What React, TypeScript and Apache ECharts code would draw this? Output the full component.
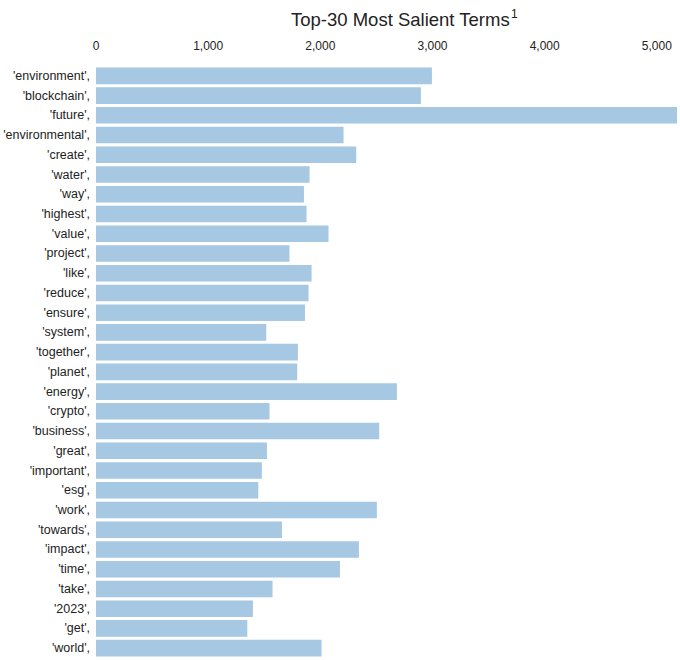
import React, { useEffect, useRef } from "react";
import * as echarts from "echarts";

const terms = [
  "environment", "blockchain", "future", "environmental", "create", "water", "way", "highest",
  "value", "project", "like", "reduce", "ensure", "system", "together", "planet", "energy",
  "crypto", "business", "great", "important", "esg", "work", "towards", "impact", "time",
  "take", "2023", "get", "world",
];
const counts = [
  2995, 2897, 5180, 2207, 2320, 1904, 1854, 1877,
  2073, 1725, 1922, 1895, 1863, 1518, 1800, 1794, 2683,
  1547, 2525, 1524, 1479, 1447, 2504, 1658, 2344, 2175,
  1574, 1399, 1349, 2011,
];
const titleText = "Top-30 Most Salient Terms";
const titleSup = "1";

export default function App() {
  const ref = useRef<HTMLDivElement>(null);
  useEffect(() => {
    if (!ref.current) return;
    const chart = echarts.init(ref.current, null, { renderer: "svg" });
    chart.setOption({
      animation: false,
      backgroundColor: "#ffffff",
      title: {
        text: titleText + "{sup|" + titleSup + "}",
        left: 286,
        top: 3,
        textStyle: {
          fontFamily: "Liberation Sans, Arial, sans-serif",
          fontSize: 18.5,
          fontWeight: "normal",
          color: "#222222",
          rich: {
            sup: {
              fontFamily: "Liberation Sans, Arial, sans-serif",
              fontSize: 12,
              color: "#222222",
              verticalAlign: "top",
              padding: [0, 0, 10, 1],
            },
          },
        },
      },
      grid: { left: 96, right: 3, top: 66, bottom: 2, containLabel: false },
      xAxis: {
        type: "value",
        position: "top",
        min: 0,
        max: 5180,
        interval: 1000,
        axisLine: { show: false },
        axisTick: { show: false },
        splitLine: { show: false },
        axisLabel: {
          showMaxLabel: false,
          margin: 14,
          fontFamily: "Liberation Sans, Arial, sans-serif",
          fontSize: 12,
          color: "#222222",
          formatter: (v: number) => v.toLocaleString("en-US"),
        },
      },
      yAxis: {
        type: "category",
        data: terms,
        inverse: true,
        axisLine: { show: false },
        axisTick: { show: false },
        splitLine: { show: false },
        axisLabel: {
          margin: 6,
          fontFamily: "Liberation Sans, Arial, sans-serif",
          fontSize: 12.5,
          color: "#222222",
          formatter: (v: string) => "'" + v + "',",
        },
      },
      series: [
        {
          type: "bar",
          data: counts,
          barCategoryGap: "16%",
          itemStyle: { color: "#a6c8e2" },
        },
      ],
    });
    return () => chart.dispose();
  }, []);
  return (
    <div
      ref={ref}
      style={{ position: "fixed", left: 0, top: 0, width: 680, height: 660, background: "#fff" }}
    />
  );
}
